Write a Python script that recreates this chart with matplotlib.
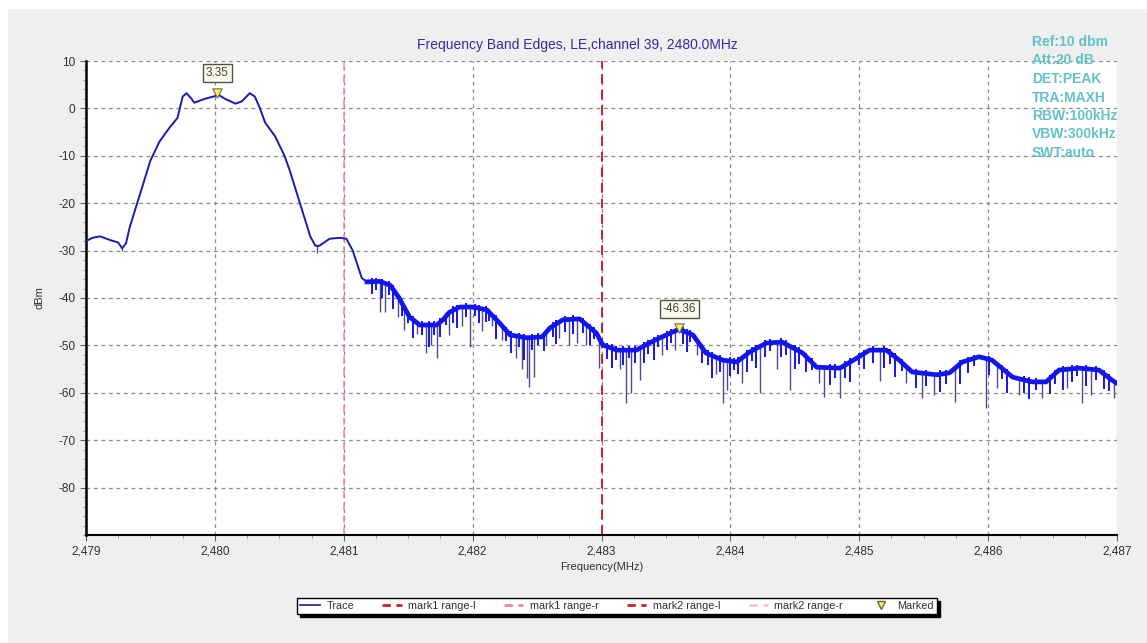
import numpy as np
import matplotlib
matplotlib.use("Agg")
import matplotlib.pyplot as plt
from matplotlib.patches import Rectangle
from matplotlib.lines import Line2D
from matplotlib.ticker import MultipleLocator

plt.rcParams['font.family'] = ['Liberation Sans', 'DejaVu Sans']

# ---------------- data ----------------
title = "Frequency Band Edges, LE,channel 39, 2480.0MHz"
info_lines = ["Ref:10 dbm", "Att:20 dB", "DET:PEAK", "TRA:MAXH",
              "RBW:100kHz", "VBW:300kHz", "SWT:auto"]

freq = [2479.00, 2479.05, 2479.11, 2479.19, 2479.25, 2479.28, 2479.31, 2479.34,
        2479.42, 2479.50, 2479.57, 2479.65, 2479.71, 2479.75, 2479.78, 2479.82,
        2479.84, 2479.92, 2480.00, 2480.02, 2480.08, 2480.16, 2480.21, 2480.27,
        2480.31, 2480.35, 2480.39, 2480.47, 2480.54, 2480.58, 2480.66, 2480.74,
        2480.78, 2480.81, 2480.89, 2480.97, 2481.02, 2481.07, 2481.14, 2481.18,
        2481.28, 2481.36, 2481.43, 2481.51, 2481.59, 2481.72, 2481.77, 2481.82,
        2481.90, 2482.00, 2482.11, 2482.21, 2482.29, 2482.42, 2482.54, 2482.60,
        2482.70, 2482.83, 2482.96, 2483.01, 2483.12, 2483.27, 2483.37, 2483.47,
        2483.60, 2483.71, 2483.81, 2483.94, 2484.05, 2484.15, 2484.28, 2484.40,
        2484.56, 2484.67, 2484.85, 2484.98, 2485.08, 2485.21, 2485.31, 2485.41,
        2485.60, 2485.70, 2485.80, 2485.93, 2486.03, 2486.19, 2486.34, 2486.45,
        2486.55, 2486.71, 2486.86, 2486.96, 2487.00]
level = [-28.0, -27.3, -27.0, -27.8, -28.3, -29.5, -28.5, -25.0,
         -18.0, -11.0, -7.0, -4.0, -2.0, 2.5, 3.2, 2.0,
         1.2, 2.0, 2.6, 3.0, 2.0, 1.0, 1.5, 3.2,
         2.5, 0.0, -3.0, -6.0, -10.0, -13.0, -20.0, -27.0,
         -29.0, -29.0, -27.5, -27.3, -27.5, -30.0, -35.8, -36.6,
         -36.5, -37.3, -40.0, -44.0, -45.7, -45.7, -44.6, -43.0,
         -41.9, -41.9, -42.5, -45.3, -47.8, -48.4, -48.2, -46.3,
         -44.6, -44.4, -47.4, -49.9, -51.0, -51.0, -49.5, -48.2,
         -46.6, -47.8, -51.6, -53.1, -53.5, -51.4, -49.5, -49.3,
         -51.6, -54.6, -54.8, -52.7, -51.0, -51.0, -53.1, -55.6,
         -56.2, -55.8, -53.5, -52.4, -53.1, -56.7, -57.7, -57.7,
         -55.2, -54.8, -55.2, -57.3, -58.0]

noisy_start = 2481.15

# deep spikes: frequency (MHz) and lowest level (dBm)
spike_freq = [2479.28, 2480.79, 2481.28, 2481.32, 2481.42, 2481.47, 2481.57, 2481.64,
              2481.68, 2481.72, 2481.82, 2481.92, 2481.98, 2482.07, 2482.15, 2482.23,
              2482.34, 2482.38, 2482.42, 2482.44, 2482.48, 2482.57, 2482.67, 2482.75,
              2482.81, 2482.88, 2482.98, 2483.14, 2483.19, 2483.23, 2483.30, 2483.47,
              2483.57, 2483.74, 2483.89, 2483.94, 2483.97, 2484.09, 2484.23, 2484.36,
              2484.46, 2484.69, 2484.73, 2484.85, 2485.16, 2485.36, 2485.49, 2485.58,
              2485.74, 2485.98, 2486.07, 2486.24, 2486.42, 2486.61, 2486.73, 2486.80,
              2486.98]
spike_bottom = [-30.0, -30.5, -43.0, -43.0, -44.0, -46.8, -47.5, -51.6,
                -50.0, -52.7, -47.8, -46.0, -50.3, -47.0, -46.0, -48.9,
                -52.7, -55.0, -56.9, -58.8, -56.7, -49.9, -48.4, -50.0,
                -49.5, -50.0, -54.8, -55.0, -62.2, -60.0, -57.3, -52.0,
                -51.0, -52.0, -56.0, -62.2, -59.5, -58.0, -60.0, -55.0,
                -59.4, -58.0, -60.9, -61.0, -57.5, -58.0, -61.0, -60.5,
                -62.0, -63.2, -59.0, -60.5, -61.0, -59.0, -62.2, -60.5,
                -61.0]

# short dips that make up the thick noisy band (depth below trace, dB)
dip_freq = [2481.22, 2481.25, 2481.30, 2481.35, 2481.38, 2481.45, 2481.50, 2481.54,
            2481.61, 2481.66, 2481.70, 2481.75, 2481.79, 2481.85, 2481.88, 2481.95,
            2482.02, 2482.05, 2482.10, 2482.13, 2482.18, 2482.26, 2482.30, 2482.36,
            2482.40, 2482.46, 2482.51, 2482.55, 2482.62, 2482.65, 2482.72, 2482.78,
            2482.86, 2482.91, 2482.94, 2483.04, 2483.08, 2483.11, 2483.17, 2483.21,
            2483.26, 2483.33, 2483.36, 2483.41, 2483.44, 2483.51, 2483.54, 2483.63,
            2483.66, 2483.69, 2483.78, 2483.83, 2483.86, 2483.92, 2484.00, 2484.03,
            2484.06, 2484.13, 2484.17, 2484.20, 2484.27, 2484.31, 2484.39, 2484.43,
            2484.50, 2484.53, 2484.59, 2484.63, 2484.77, 2484.81, 2484.89, 2484.93,
            2485.00, 2485.04, 2485.11, 2485.19, 2485.24, 2485.28, 2485.33, 2485.44,
            2485.52, 2485.63, 2485.67, 2485.78, 2485.84, 2485.89, 2486.01, 2486.11,
            2486.15, 2486.28, 2486.32, 2486.37, 2486.48, 2486.52, 2486.58, 2486.65,
            2486.69, 2486.76, 2486.84, 2486.90, 2486.94]
dip_depth = [3.5, 2.5, 4.0, 3.0, 5.0, 3.5, 2.5, 4.5,
             3.0, 5.5, 3.0, 4.0, 2.5, 3.5, 5.0, 3.0,
             2.5, 4.0, 3.5, 2.5, 5.0, 3.0, 4.5, 3.0,
             5.5, 3.5, 2.5, 4.0, 3.0, 5.0, 3.5, 4.0,
             3.0, 4.5, 2.5, 3.5, 5.0, 3.0, 4.0, 2.5,
             3.5, 4.5, 3.0, 5.0, 2.5, 4.0, 3.0, 3.5,
             5.0, 2.5, 4.0, 3.0, 5.5, 3.5, 4.0, 2.5,
             3.5, 4.5, 3.0, 5.0, 3.5, 2.5, 4.0, 3.0,
             5.0, 3.5, 4.0, 2.5, 4.5, 3.0, 3.5, 5.0,
             2.5, 4.0, 3.5, 4.5, 3.0, 5.0, 2.5, 4.0,
             3.5, 4.5, 3.0, 5.0, 3.5, 2.5, 4.0, 3.0,
             5.0, 3.5, 4.5, 2.5, 4.0, 3.0, 5.0, 3.5,
             2.5, 4.5, 3.0, 4.0, 3.5]

marker_freq = [2480.02, 2483.605]
marker_level = [3.35, -46.36]
marker_text = ["3.35", "-46.36"]

mark_lines = [2479.0, 2481.0, 2483.0, 2487.0]
mark_names = ["mark1 range-l", "mark1 range-r", "mark2 range-l", "mark2 range-r"]
mark_colors = ['#c8202a', '#f08a94', '#c8202a', '#f6c4c8']

x_ticks = [2479, 2480, 2481, 2482, 2483, 2484, 2485, 2486, 2487]
x_tick_labels = ["2,479", "2,480", "2,481", "2,482", "2,483", "2,484", "2,485", "2,486", "2,487"]
y_ticks = [10, 0, -10, -20, -30, -40, -50, -60, -70, -80]
y_tick_labels = ["10", "0", "-10", "-20", "-30", "-40", "-50", "-60", "-70", "-80"]

# ---------------- figure ----------------
W, H = 1147, 643
fig = plt.figure(figsize=(W / 100, H / 100), dpi=100, facecolor='white')
fig.patches.append(Rectangle((8 / W, 0), 1, 1 - 9 / H, transform=fig.transFigure,
                             facecolor='#efefef', edgecolor='none', zorder=-10))

ax = fig.add_axes([86 / W, 1 - 535 / H, (1117 - 86) / W, (535 - 61) / H])
ax.set_facecolor('white')
ax.set_xlim(2479, 2487)
ax.set_ylim(-90, 10)

f = np.array(freq)
lv = np.array(level)

ax.grid(True, which='major', color='#8a8a8a', linestyle=(0, (3, 3)), linewidth=0.9)
ax.set_axisbelow(True)

# trace
ax.plot(f, lv, color='#1a1ab8', linewidth=1.4, zorder=3)
m = f >= noisy_start
ax.plot(f[m], lv[m], color='#1414ee', linewidth=3.4, solid_joinstyle='round', zorder=3)
df = np.array(dip_freq)
dtop = np.interp(df, f, lv) + 0.8
ax.vlines(df, dtop - np.array(dip_depth), dtop, color='#1414ee', linewidth=1.4, zorder=3)
sf = np.array(spike_freq)
top = np.interp(sf, f, lv)
ax.vlines(sf, spike_bottom, top, color='#4a4a98', linewidth=1.0, zorder=2.9)

# mark lines (those on the axis limits are hidden by the frame)
for xv, c in zip(mark_lines, mark_colors):
    if 2479 < xv < 2487:
        lw = 1.4 if c == '#c8202a' else 1.1
        ax.axvline(xv, color=c, linestyle=(0, (5, 3)), linewidth=lw, zorder=2.5)

# markers
ax.scatter(marker_freq, marker_level, marker='v', s=45, facecolor='#f4f060',
           edgecolor='#6a6a40', linewidth=0.8, zorder=5)
for xv, yv, t in zip(marker_freq, marker_level, marker_text):
    ax.annotate(t, (xv, yv), xytext=(0, 14), textcoords='offset points',
                ha='center', va='center', fontsize=8.5, color='#404040', zorder=6,
                bbox=dict(boxstyle='square,pad=0.25', facecolor='#fbfbe8',
                          edgecolor='#505050', linewidth=1.0))

# axes styling
for s in ['top', 'right']:
    ax.spines[s].set_visible(False)
ax.spines['left'].set_linewidth(1.8)
ax.spines['bottom'].set_linewidth(1.5)
ax.set_xticks(x_ticks)
ax.set_xticklabels(x_tick_labels)
ax.set_yticks(y_ticks)
ax.set_yticklabels(y_tick_labels)
ax.xaxis.set_minor_locator(MultipleLocator(0.25))
ax.yaxis.set_minor_locator(MultipleLocator(2))
ax.tick_params(axis='both', which='major', labelsize=8.5, labelcolor='#303030',
               color='#606060', length=4, width=0.8)
ax.tick_params(axis='both', which='minor', color='#909090', length=2.5, width=0.6)
ax.set_xlabel("Frequency(MHz)", fontsize=8, color='#303030', labelpad=3)
ax.set_ylabel("dBm", fontsize=8, color='#303030', labelpad=10)

# title and info
fig.text(577 / W, 1 - 45 / H, title, ha='center', va='center', fontsize=10,
         color='#2e2e9e')
for i, line in enumerate(info_lines):
    fig.text(1032 / W, 1 - (42 + 18.5 * i) / H, line, ha='left', va='center',
             fontsize=10, fontweight='bold', color='#62c2c8', zorder=10)

# legend
handles = [Line2D([], [], color='#1a1a8a', linewidth=1.2)]
for c in mark_colors:
    handles.append(Line2D([], [], color=c, linestyle=(0, (3, 2)), linewidth=2.0))
handles.append(Line2D([], [], color='none', marker='v', markersize=6,
                      markerfacecolor='#f4f060', markeredgecolor='#6a6a40'))
labels = ["Trace"] + mark_names + ["Marked"]
leg = fig.legend(handles, labels, loc='center', bbox_to_anchor=(617 / W, 1 - 606 / H),
                 ncol=6, fontsize=7.8, frameon=True, fancybox=False,
                 shadow={'color': 'black', 'alpha': 1.0},
                 handlelength=1.8, handletextpad=0.6, columnspacing=2.6,
                 borderpad=0.3, edgecolor='black', facecolor='white', framealpha=1)
leg.get_frame().set_linewidth(1.0)
for t in leg.get_texts():
    t.set_color('#303030')

fig.savefig("out.png", dpi=100, facecolor=fig.get_facecolor())
